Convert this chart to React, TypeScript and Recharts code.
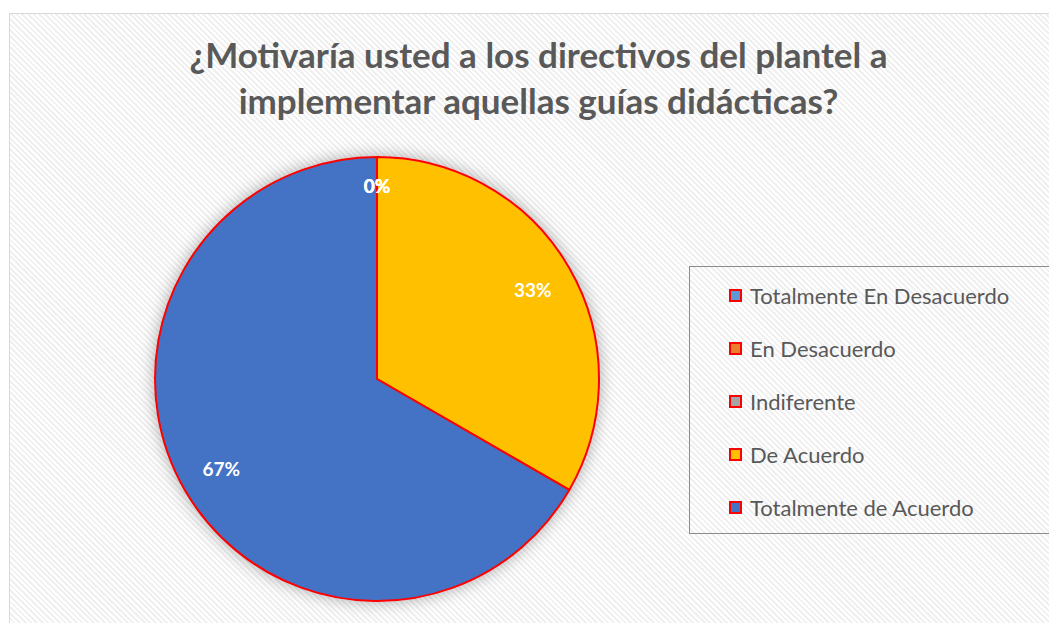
import { PieChart, Pie, Cell, Legend } from "recharts";

const TITLE_LINES = ["¿Motivaría usted a los directivos del plantel a", "implementar aquellas guías didácticas?"];
const CATEGORIES = ["Totalmente En Desacuerdo", "En Desacuerdo", "Indiferente", "De Acuerdo", "Totalmente de Acuerdo"];
const VALUES = [0, 0, 0, 33.33, 66.67];
const COLORS = ["#5B9BD5", "#ED7D31", "#A5A5A5", "#FFC000", "#4472C4"];

const FONT = "Lato, 'Open Sans', sans-serif";
const RAD = Math.PI / 180;

const data = CATEGORIES.map((name, i) => ({ name, value: VALUES[i] }));
const total = VALUES.reduce((a, v) => a + v, 0);

function renderLabel(p: any) {
  const r = p.value === 0 ? p.outerRadius * 0.87 : p.outerRadius * 0.81;
  const x = p.cx + r * Math.cos(-p.midAngle * RAD);
  const y = p.cy + r * Math.sin(-p.midAngle * RAD);
  return (
    <text x={x} y={y} fill="#fff" fontSize={19} fontWeight={700} fontFamily={FONT} textAnchor="middle" dominantBaseline="central">
      {`${Math.round((p.value / total) * 100)}%`}
    </text>
  );
}

function LegendBox({ payload }: any) {
  const items = [...(payload || [])].sort(
    (a: any, b: any) => CATEGORIES.indexOf(a.value) - CATEGORIES.indexOf(b.value)
  );
  return (
    <div
      style={{
        width: 362,
        height: 268,
        border: "1px solid #8c8c8c",
        boxSizing: "border-box",
        paddingTop: 2,
        fontFamily: FONT,
      }}
    >
      {items.map((e: any) => (
        <div key={e.value} style={{ display: "flex", alignItems: "center", height: 53, paddingLeft: 39 }}>
          <span
            style={{
              width: 13,
              height: 13,
              background: e.color,
              border: "2px solid #ff0000",
              boxSizing: "border-box",
              marginRight: 8,
            }}
          />
          <span style={{ fontSize: 22, color: "#595959" }}>{e.value}</span>
        </div>
      ))}
    </div>
  );
}

export default function App() {
  return (
    <div style={{ position: "relative", width: 1049, height: 615, overflow: "hidden" }}>
      <style>{`.recharts-pie { filter: drop-shadow(0 0 8px rgba(0,0,0,0.32)); }`}</style>
      <div
        style={{
          position: "absolute",
          left: 1,
          top: 5,
          width: 1060,
          height: 620,
          border: "1px solid #d9d9d9",
          background: "repeating-linear-gradient(45deg, #ffffff 0px, #ffffff 2px, #f0f0f0 2px, #f0f0f0 4px)",
        }}
      />
      <div
        style={{
          position: "absolute",
          left: 0,
          top: 23,
          width: 1061,
          textAlign: "center",
          fontFamily: FONT,
          fontWeight: 700,
          fontSize: 35,
          lineHeight: "46px",
          color: "#595959",
        }}
      >
        {TITLE_LINES.map((t) => (
          <div key={t}>{t}</div>
        ))}
      </div>
      <div style={{ position: "absolute", left: 0, top: 0 }}>
        <PieChart width={1049} height={615}>
          <Pie
            data={data}
            dataKey="value"
            nameKey="name"
            cx={364}
            cy={366}
            outerRadius={222}
            startAngle={90}
            endAngle={-270}
            stroke="#ff0000"
            strokeWidth={2}
            label={renderLabel}
            labelLine={false}
            isAnimationActive={false}
          >
            {data.map((d, i) => (
              <Cell key={d.name} fill={COLORS[i]} />
            ))}
          </Pie>
          <Legend
            layout="vertical"
            content={<LegendBox />}
            wrapperStyle={{ position: "absolute", left: 681, top: 258, width: 362, height: 268 }}
          />
        </PieChart>
      </div>
    </div>
  );
}
